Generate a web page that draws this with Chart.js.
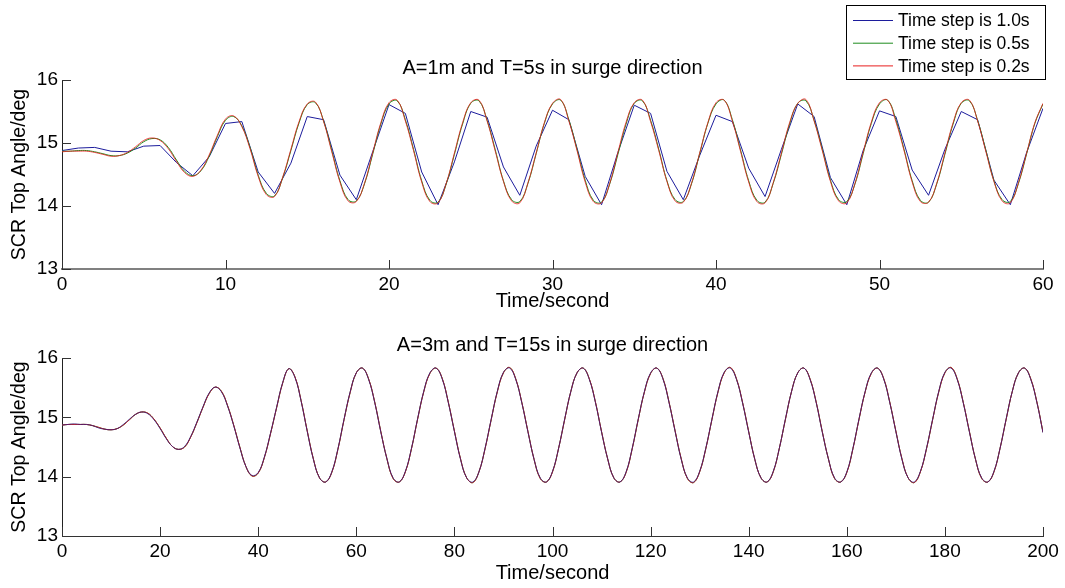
<!DOCTYPE html>
<html lang="en">
<head>
    <meta charset="UTF-8">
    <title>SCR Top Angle - surge direction</title>
    <script src="https://cdn.jsdelivr.net/npm/chart.js"></script>
    <style>
        body { margin: 0; background: #fff; }
        .wrap { position: relative; width: 1065px; height: 588px; }
        canvas { position: absolute; left: 0; }
    </style>
</head>
<body>
<div class="wrap">
    <canvas id="topChart" width="1065" height="313" style="top:0"></canvas>
    <canvas id="bottomChart" width="1065" height="278" style="top:310px"></canvas>
</div>

<script>
    // ---- top subplot: A=1m, T=5s ----
    const labels = ["Time step is 1.0s", "Time step is 0.5s", "Time step is 0.2s"];

    const topTime1 = [0,1,2,3,4,5,6,7,8,9,10,11,12,13,14,15,16,17,18,19,20,21,22,23,24,25,26,27,28,29,
        30,31,32,33,34,35,36,37,38,39,40,41,42,43,44,45,46,47,48,49,50,51,52,53,54,55,56,57,58,59,60];
    const topStep10 = [14.88,14.92,14.93,14.87,14.86,14.95,14.96,14.69,14.48,14.78,
        15.31,15.34,14.54,14.20,14.68,15.42,15.37,14.49,14.10,14.86,
        15.61,15.47,14.54,14.02,14.70,15.50,15.41,14.62,14.17,14.95,
        15.52,15.37,14.47,14.02,14.85,15.60,15.47,14.55,14.10,14.80,
        15.44,15.34,14.60,14.15,14.90,15.62,15.42,14.45,14.02,14.88,
        15.51,15.42,14.57,14.17,14.90,15.50,15.37,14.41,14.02,14.85,
        15.55];

    const topTimeFine = [0,0.5,1,1.5,2,2.5,3,3.5,4,4.5, 5,5.5,6,6.5,7,7.5,8,8.5,9,9.5,
        10,10.5,11,11.5,12,12.5,13,13.5,14,14.5, 15,15.5,16,16.5,17,17.5,18,18.5,19,19.5,
        20,20.5,21,21.5,22,22.5,23,23.5,24,24.5, 25,25.5,26,26.5,27,27.5,28,28.5,29,29.5,
        30,30.5,31,31.5,32,32.5,33,33.5,34,34.5, 35,35.5,36,36.5,37,37.5,38,38.5,39,39.5,
        40,40.5,41,41.5,42,42.5,43,43.5,44,44.5, 45,45.5,46,46.5,47,47.5,48,48.5,49,49.5,
        50,50.5,51,51.5,52,52.5,53,53.5,54,54.5, 55,55.5,56,56.5,57,57.5,58,58.5,59,59.5, 60];
    const topStep05 = [14.87,14.87,14.88,14.88,14.86,14.83,14.80,14.80,14.84,14.92,
        15.02,15.07,15.05,14.93,14.73,14.55,14.48,14.56,14.79,15.10,
        15.36,15.42,15.27,14.93,14.49,14.20,14.16,14.45,14.88,15.32,
        15.61,15.64,15.35,14.88,14.40,14.10,14.08,14.35,14.82,15.30,
        15.62,15.67,15.37,14.90,14.40,14.09,14.06,14.35,14.82,15.30,
        15.63,15.67,15.36,14.89,14.40,14.10,14.07,14.36,14.83,15.31,
        15.62,15.68,15.37,14.90,14.41,14.09,14.06,14.35,14.82,15.30,
        15.63,15.67,15.36,14.90,14.40,14.10,14.07,14.35,14.83,15.31,
        15.62,15.68,15.37,14.89,14.40,14.09,14.06,14.36,14.82,15.30,
        15.63,15.67,15.36,14.90,14.41,14.10,14.07,14.35,14.83,15.31,
        15.62,15.68,15.37,14.90,14.40,14.09,14.06,14.35,14.82,15.30,
        15.63,15.67,15.36,14.89,14.40,14.10,14.07,14.36,14.83,15.31,
        15.62];
    const topStep02 = [14.86,14.87,14.87,14.87,14.85,14.82,14.79,14.80,14.85,14.94,
        15.04,15.08,15.04,14.91,14.71,14.53,14.47,14.57,14.81,15.12,
        15.38,15.43,15.26,14.91,14.47,14.18,14.15,14.46,14.90,15.34,
        15.62,15.65,15.34,14.86,14.38,14.08,14.07,14.36,14.84,15.32,
        15.64,15.68,15.35,14.88,14.38,14.07,14.05,14.36,14.84,15.32,
        15.64,15.68,15.35,14.87,14.39,14.08,14.05,14.37,14.84,15.32,
        15.63,15.69,15.35,14.88,14.38,14.07,14.05,14.36,14.85,15.33,
        15.64,15.68,15.34,14.88,14.39,14.08,14.06,14.36,14.84,15.32,
        15.64,15.68,15.35,14.87,14.38,14.07,14.05,14.37,14.84,15.32,
        15.63,15.69,15.35,14.88,14.39,14.08,14.05,14.36,14.85,15.33,
        15.64,15.68,15.34,14.88,14.38,14.07,14.06,14.36,14.84,15.32,
        15.64,15.68,15.35,14.87,14.39,14.08,14.05,14.37,14.84,15.32,
        15.63];

    // ---- bottom subplot: A=3m, T=15s ----
    const botTime = [0,1.25,2.5,3.75,5,6.25,7.5,8.75,10,11.25,12.5,13.75,
        15,16.25,17.5,18.75,20,21.25,22.5,23.75,25,26.25,27.5,28.75,
        30,31.25,32.5,33.75,35,36.25,37.5,38.75,40,41.25,42.5,43.75,
        45,46.25,47.5,48.75,50,51.25,52.5,53.75,55,56.25,57.5,58.75,
        60,61.25,62.5,63.75,65,66.25,67.5,68.75,70,71.25,72.5,73.75,
        75,76.25,77.5,78.75,80,81.25,82.5,83.75,85,86.25,87.5,88.75,
        90,91.25,92.5,93.75,95,96.25,97.5,98.75,100,101.25,102.5,103.75,
        105,106.25,107.5,108.75,110,111.25,112.5,113.75,115,116.25,117.5,118.75,
        120,121.25,122.5,123.75,125,126.25,127.5,128.75,130,131.25,132.5,133.75,
        135,136.25,137.5,138.75,140,141.25,142.5,143.75,145,146.25,147.5,148.75,
        150,151.25,152.5,153.75,155,156.25,157.5,158.75,160,161.25,162.5,163.75,
        165,166.25,167.5,168.75,170,171.25,172.5,173.75,175,176.25,177.5,178.75,
        180,181.25,182.5,183.75,185,186.25,187.5,188.75,190,191.25,192.5,193.75,
        195,196.25,197.5,198.75,200];
    const botStep10 = [14.87,14.88,14.89,14.88,14.88,14.86,14.82,14.80,14.79,14.81,14.88,14.97,
        15.05,15.09,15.06,14.96,14.81,14.64,14.51,14.46,14.51,14.68,14.92,15.18,
        15.41,15.51,15.43,15.19,14.86,14.49,14.17,14.02,14.07,14.33,14.73,15.17,
        15.59,15.82,15.67,15.27,14.76,14.29,13.98,13.91,14.08,14.47,14.97,15.43,
        15.75,15.83,15.64,15.25,14.75,14.30,13.98,13.91,14.09,14.48,14.98,15.44,
        15.75,15.83,15.65,15.25,14.76,14.29,13.98,13.91,14.08,14.48,14.97,15.44,
        15.76,15.83,15.64,15.24,14.75,14.29,13.98,13.91,14.09,14.48,14.98,15.44,
        15.75,15.83,15.64,15.25,14.75,14.30,13.98,13.91,14.08,14.48,14.98,15.44,
        15.75,15.83,15.65,15.25,14.76,14.29,13.98,13.91,14.09,14.48,14.97,15.44,
        15.76,15.83,15.64,15.24,14.75,14.29,13.98,13.91,14.09,14.48,14.98,15.44,
        15.75,15.83,15.64,15.25,14.75,14.30,13.98,13.91,14.08,14.48,14.98,15.44,
        15.75,15.83,15.65,15.25,14.76,14.29,13.98,13.91,14.09,14.48,14.97,15.44,
        15.76,15.83,15.64,15.24,14.75,14.29,13.98,13.91,14.09,14.48,14.98,15.44,
        15.75,15.83,15.64,15.25,14.74];
    const botStep05 = [14.87,14.88,14.88,14.88,14.88,14.86,14.83,14.80,14.79,14.81,14.87,14.96,
        15.05,15.09,15.07,14.97,14.82,14.65,14.51,14.46,14.50,14.67,14.91,15.17,
        15.40,15.51,15.44,15.20,14.87,14.50,14.17,14.01,14.06,14.32,14.72,15.16,
        15.58,15.82,15.68,15.28,14.77,14.30,13.98,13.91,14.07,14.46,14.96,15.42,
        15.75,15.83,15.65,15.26,14.76,14.30,13.97,13.91,14.08,14.47,14.97,15.43,
        15.74,15.83,15.66,15.26,14.77,14.30,13.98,13.90,14.08,14.47,14.96,15.43,
        15.75,15.84,15.65,15.25,14.76,14.29,13.97,13.91,14.08,14.48,14.97,15.44,
        15.75,15.83,15.65,15.26,14.76,14.30,13.98,13.91,14.07,14.47,14.97,15.43,
        15.74,15.83,15.66,15.26,14.77,14.30,13.97,13.90,14.08,14.47,14.96,15.43,
        15.75,15.84,15.65,15.25,14.76,14.29,13.98,13.91,14.08,14.48,14.97,15.44,
        15.75,15.83,15.65,15.26,14.76,14.30,13.97,13.91,14.07,14.47,14.97,15.43,
        15.74,15.83,15.66,15.26,14.77,14.30,13.98,13.90,14.08,14.47,14.96,15.43,
        15.75,15.84,15.65,15.25,14.76,14.29,13.97,13.91,14.08,14.48,14.97,15.44,
        15.75,15.83,15.65,15.26,14.75];
    const botStep02 = [14.87,14.88,14.88,14.88,14.88,14.86,14.83,14.80,14.79,14.81,14.87,14.96,
        15.05,15.09,15.07,14.97,14.82,14.65,14.51,14.46,14.50,14.67,14.91,15.17,
        15.40,15.51,15.44,15.20,14.87,14.50,14.17,14.01,14.06,14.32,14.72,15.16,
        15.58,15.82,15.68,15.28,14.77,14.30,13.98,13.91,14.07,14.46,14.96,15.42,
        15.75,15.83,15.65,15.26,14.76,14.30,13.97,13.91,14.08,14.47,14.97,15.43,
        15.74,15.83,15.66,15.26,14.77,14.30,13.98,13.90,14.08,14.47,14.96,15.43,
        15.75,15.84,15.65,15.25,14.76,14.29,13.97,13.91,14.08,14.48,14.97,15.44,
        15.75,15.83,15.65,15.26,14.76,14.30,13.98,13.91,14.07,14.47,14.97,15.43,
        15.74,15.83,15.66,15.26,14.77,14.30,13.97,13.90,14.08,14.47,14.96,15.43,
        15.75,15.84,15.65,15.25,14.76,14.29,13.98,13.91,14.08,14.48,14.97,15.44,
        15.75,15.83,15.65,15.26,14.76,14.30,13.97,13.91,14.07,14.47,14.97,15.43,
        15.74,15.83,15.66,15.26,14.77,14.30,13.98,13.90,14.08,14.47,14.96,15.43,
        15.75,15.84,15.65,15.25,14.76,14.29,13.97,13.91,14.08,14.48,14.97,15.44,
        15.75,15.83,15.65,15.26,14.75];

    const colors = ["#1c1c9c", "#1e8c1e", "#e81e1e"];
    const FONT = "'Liberation Sans', Arial, sans-serif";
    Chart.defaults.font.family = FONT;
    Chart.defaults.color = "#000";

    function pts(ts, vs) {
        return ts.map((t, i) => ({ x: t, y: vs[i] }));
    }

    // matlab style ticks: short marks pointing into the plot
    const inwardTicks = {
        id: "inwardTicks",
        afterDatasetsDraw(chart) {
            const { ctx, chartArea: a, scales: { x, y } } = chart;
            ctx.save();
            ctx.lineWidth = 1;
            ctx.strokeStyle = "#333";
            x.ticks.forEach(t => {
                const px = Math.round(x.getPixelForValue(t.value)) + 0.5;
                ctx.beginPath();
                ctx.moveTo(px, a.bottom);
                ctx.lineTo(px, a.bottom - 9);
                ctx.stroke();
            });
            y.ticks.forEach(t => {
                const py = Math.round(y.getPixelForValue(t.value)) + 0.5;
                ctx.beginPath();
                ctx.moveTo(a.left, py);
                ctx.lineTo(a.left + 9, py);
                ctx.stroke();
            });
            ctx.restore();
        }
    };

    // boxed legend in the top right corner of the figure
    const boxLegend = {
        id: "boxLegend",
        afterDraw(chart) {
            const ctx = chart.ctx;
            ctx.save();
            ctx.fillStyle = "#fff";
            ctx.fillRect(846.5, 5.5, 199, 74);
            ctx.strokeStyle = "#000";
            ctx.lineWidth = 1;
            ctx.strokeRect(846.5, 5.5, 199, 74);
            ctx.font = "17.5px " + FONT;
            ctx.textBaseline = "middle";
            chart.data.datasets.forEach((ds, i) => {
                const yy = 20.5 + i * 22.7;
                ctx.strokeStyle = colors[i];
                ctx.beginPath();
                ctx.moveTo(853, yy);
                ctx.lineTo(893, yy);
                ctx.stroke();
                ctx.fillStyle = "#000";
                ctx.fillText(ds.label, 898, yy + 1);
            });
            ctx.restore();
        }
    };

    function makeScales(xMax, xStep, xHeight, xTitlePad, xBorder, xBorderW) {
        return {
            x: {
                type: "linear", min: 0, max: xMax,
                ticks: { stepSize: xStep, padding: 4, maxRotation: 0, autoSkip: false, font: { size: 19 } },
                grid: { display: false, drawTicks: false },
                border: { color: xBorder, width: xBorderW },
                title: { display: true, text: "Time/second", font: { size: 20 }, padding: { top: 0, bottom: xTitlePad } },
                afterFit(s) { s.height = xHeight; }
            },
            y: {
                min: 13, max: 16,
                ticks: { stepSize: 1, padding: 4, font: { size: 19 } },
                grid: { display: false, drawTicks: false },
                border: { color: "#222", width: 1 },
                title: { display: true, text: "SCR Top Angle/deg", font: { size: 19.5 }, padding: { top: 8, bottom: 0 } },
                afterFit(s) { s.width = 62; }
            }
        };
    }

    new Chart(document.getElementById("topChart"), {
        type: "line",
        data: {
            datasets: [
                { label: labels[0], data: pts(topTime1, topStep10), borderColor: colors[0], borderWidth: 1, pointRadius: 0, tension: 0, order: 2 },
                { label: labels[1], data: pts(topTimeFine, topStep05), borderColor: colors[1], borderWidth: 1, pointRadius: 0, tension: 0.4, order: 1 },
                { label: labels[2], data: pts(topTimeFine, topStep02), borderColor: "rgba(232,30,30,0.8)", borderWidth: 1, pointRadius: 0, tension: 0.4, order: 0 }
            ]
        },
        options: {
            responsive: false,
            animation: false,
            layout: { padding: { top: 50, right: 22, bottom: 0, left: 0 } },
            scales: makeScales(60, 10, 44, 0, "#808080", 2),
            plugins: {
                legend: { display: false },
                tooltip: { enabled: false },
                title: {
                    display: true, fullSize: false,
                    text: "A=1m and T=5s in surge direction",
                    font: { size: 20, weight: "normal" },
                    padding: { top: 6, bottom: 0 }
                }
            }
        },
        plugins: [inwardTicks, boxLegend]
    });

    new Chart(document.getElementById("bottomChart"), {
        type: "line",
        data: {
            datasets: [
                { label: labels[0], data: pts(botTime, botStep10), borderColor: "rgba(40,20,130,0.75)", borderWidth: 1, pointRadius: 0, tension: 0.4, order: 0 },
                { label: labels[1], data: pts(botTime, botStep05), borderColor: colors[1], borderWidth: 1, pointRadius: 0, tension: 0.4, order: 2 },
                { label: labels[2], data: pts(botTime, botStep02), borderColor: colors[2], borderWidth: 1, pointRadius: 0, tension: 0.4, order: 1 }
            ]
        },
        options: {
            responsive: false,
            animation: false,
            layout: { padding: { top: 20, right: 22, bottom: 0, left: 0 } },
            scales: makeScales(200, 20, 52, 3, "#333", 1),
            plugins: {
                legend: { display: false },
                tooltip: { enabled: false },
                title: {
                    display: true, fullSize: false,
                    text: "A=3m and T=15s in surge direction",
                    font: { size: 20, weight: "normal" },
                    padding: { top: 3, bottom: 1 }
                }
            }
        },
        plugins: [inwardTicks]
    });
</script>
</body>
</html>
